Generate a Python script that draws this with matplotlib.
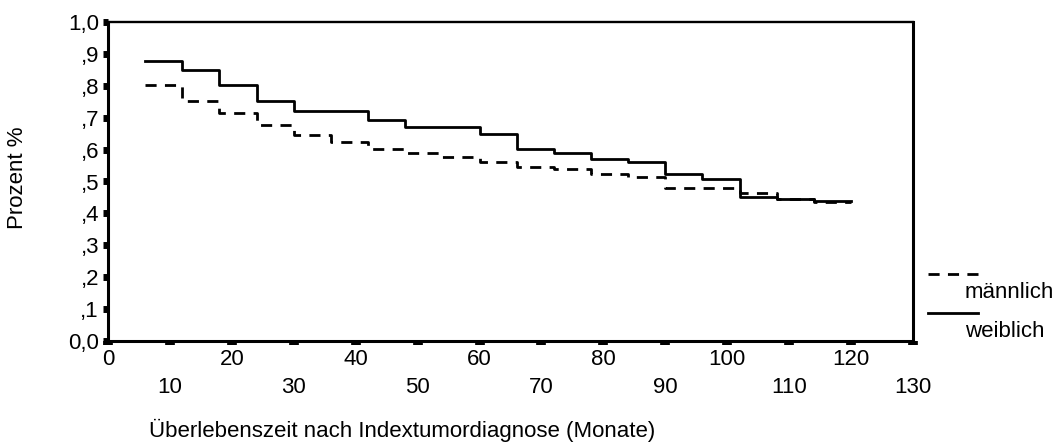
import matplotlib
matplotlib.use("Agg")
import matplotlib.pyplot as plt
from matplotlib.lines import Line2D

plt.rcParams['font.family'] = ['Liberation Sans', 'DejaVu Sans']

# Kaplan-Meier Kurven (Zeitpunkte in Monaten)
months = [6, 12, 18, 24, 30, 36, 42, 48, 54, 60,
          66, 72, 78, 84, 90, 96, 102, 108, 114, 120]
maennlich = [0.803, 0.752, 0.716, 0.676, 0.647, 0.623, 0.601, 0.590, 0.578, 0.561,
             0.545, 0.538, 0.525, 0.514, 0.479, 0.479, 0.463, 0.444, 0.437, 0.437]
weiblich = [0.878, 0.850, 0.803, 0.752, 0.721, 0.721, 0.693, 0.670, 0.670, 0.648,
            0.601, 0.590, 0.571, 0.561, 0.525, 0.509, 0.450, 0.446, 0.439, 0.439]

y_ticks = [0.0, 0.1, 0.2, 0.3, 0.4, 0.5, 0.6, 0.7, 0.8, 0.9, 1.0]
y_labels = ['0,0', ',1', ',2', ',3', ',4', ',5', ',6', ',7', ',8', ',9', '1,0']
x_major = [0, 20, 40, 60, 80, 100, 120]
x_minor = [10, 30, 50, 70, 90, 110, 130]

fs = 16
dash = (0, (4, 3))

fig = plt.figure(figsize=(10.6, 4.44), dpi=100)
ax = fig.add_axes([108 / 1060, 1 - 341 / 444, (913 - 108) / 1060, (341 - 22) / 444])

ax.step(months, maennlich, where='post', color='black', lw=2, linestyle=dash)
ax.step(months, weiblich, where='post', color='black', lw=2)

ax.set_xlim(0, 130)
ax.set_ylim(0, 1.0)

ax.set_yticks(y_ticks)
ax.set_yticklabels(y_labels)
ax.set_xticks(x_major)
ax.set_xticklabels([str(v) for v in x_major])
ax.set_xticks(x_minor, minor=True)
ax.set_xticklabels([str(v) for v in x_minor], minor=True)

ax.tick_params(axis='y', length=3.5, width=5, pad=3, labelsize=fs)
ax.tick_params(axis='x', which='major', length=3, width=7, pad=3, labelsize=fs)
ax.tick_params(axis='x', which='minor', length=3, width=7, pad=23, labelsize=fs)

for side in ['left', 'bottom', 'right']:
    ax.spines[side].set_linewidth(2.2)
ax.spines['top'].set_linewidth(1.7)

fig.text(402 / 1060, 1 - 430 / 444, 'Überlebenszeit nach Indextumordiagnose (Monate)',
         ha='center', va='center', fontsize=fs)
fig.text(18 / 1060, 1 - 178 / 444, 'Prozent %', rotation=90,
         ha='center', va='center', fontsize=fs)

# Legende
fig.add_artist(Line2D([928 / 1060, 978 / 1060], [1 - 274 / 444, 1 - 274 / 444],
                      color='black', lw=2, linestyle=dash))
fig.text(965 / 1060, 1 - 292 / 444, 'männlich', ha='left', va='center', fontsize=fs)
fig.add_artist(Line2D([928 / 1060, 978 / 1060], [1 - 313 / 444, 1 - 313 / 444],
                      color='black', lw=2))
fig.text(965 / 1060, 1 - 331 / 444, 'weiblich', ha='left', va='center', fontsize=fs)

fig.savefig('out.png', dpi=100)
